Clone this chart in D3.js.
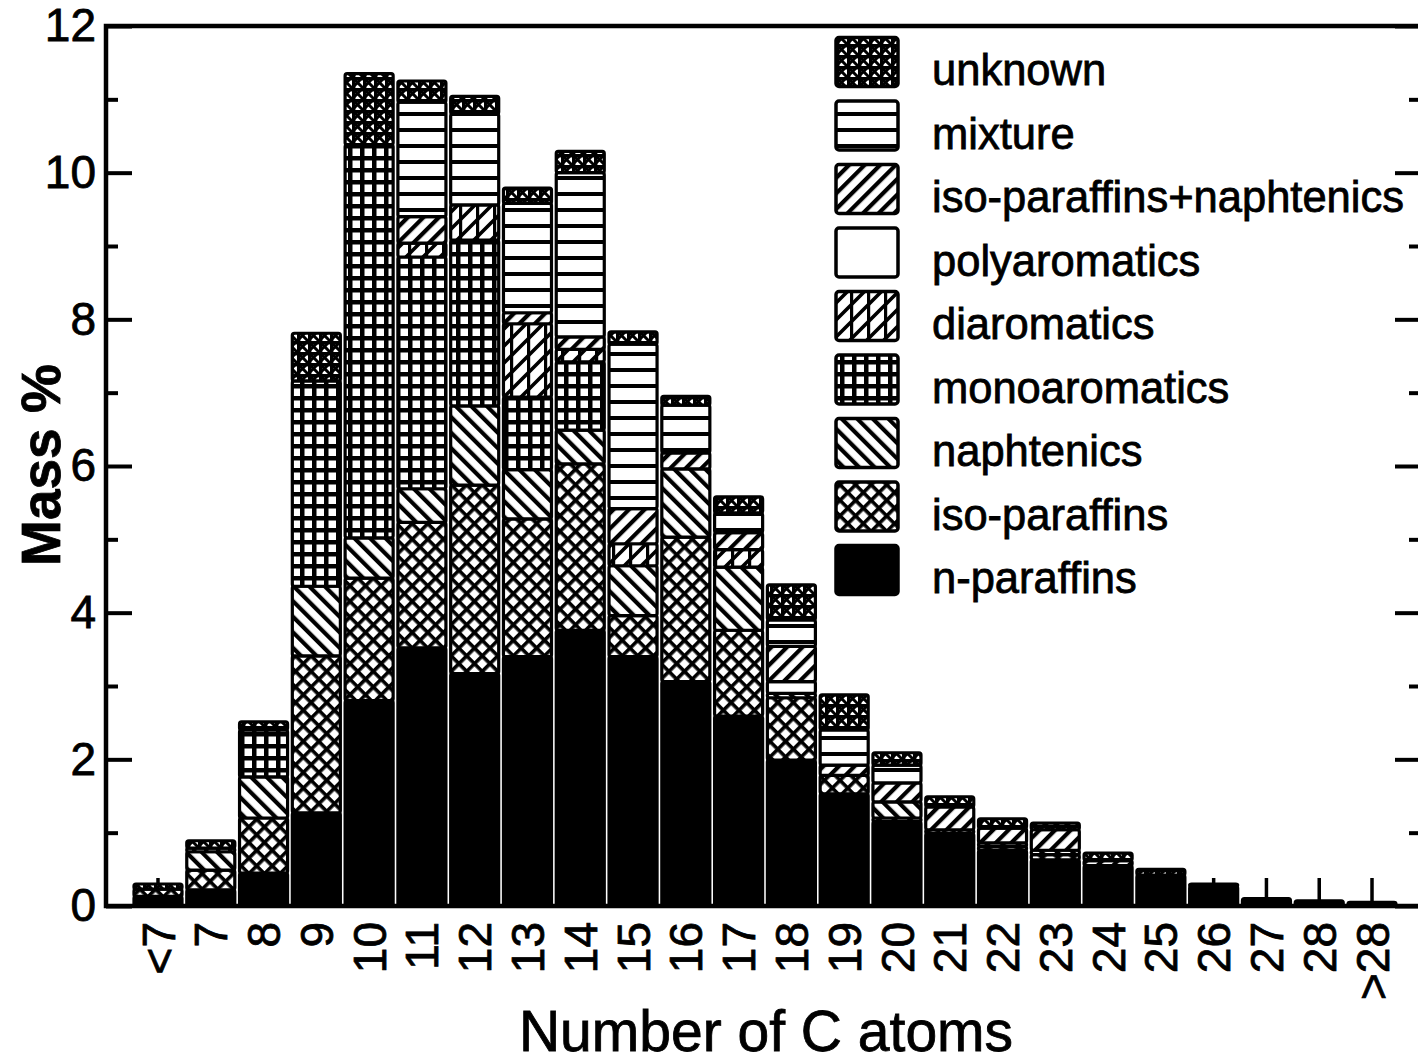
<!DOCTYPE html>
<html>
<head>
<meta charset="utf-8">
<script src="https://cdn.jsdelivr.net/npm/d3@7"></script>
<style>
  html, body { margin: 0; padding: 0; background: #fff; }
  svg { display: block; }
  text { font-family: "Liberation Sans", Arial, sans-serif; fill: #000; stroke: #000; stroke-width: 0.8px; }
</style>
</head>
<body>
<svg id="chart" width="1418" height="1062"></svg>
<script>
// ---------- data ----------
const categories = ["<7","7","8","9","10","11","12","13","14","15","16","17","18","19","20","21","22","23","24","25","26","27","28",">28"];
const seriesNames = ["n-paraffins","iso-paraffins","naphtenics","monoaromatics","diaromatics","polyaromatics","iso-paraffins+naphtenics","mixture","unknown"];
const nParaffins   = [0.13,0.22,0.45,1.27,2.80,3.52,3.17,3.40,3.76,3.40,3.06,2.59,1.99,1.53,1.15,0.99,0.76,0.63,0.55,0.42,0.27,0.10,0.07,0.05];
const isoParaffins = [0.10,0.27,0.75,2.14,1.67,1.71,2.57,1.88,2.27,0.56,1.97,1.17,0.85,0.25,0.05,0.05,0.05,0.07,0,0,0,0,0,0];
const naphtenics   = [0,0.25,0.56,0.95,0.55,0.46,1.08,0.67,0.46,0.68,0.93,0.86,0.06,0,0.22,0,0.05,0.06,0,0,0,0,0,0];
const monoaromatics= [0,0.05,0.64,2.80,5.36,3.16,2.26,0.99,0.93,0,0,0,0,0,0,0,0,0,0,0,0,0,0,0];
const diaromatics  = [0,0,0,0,0,0.19,0.48,1.00,0.17,0.30,0,0.24,0,0,0,0,0,0,0,0,0,0,0,0];
const polyaromatics= [0,0,0,0,0,0,0,0,0,0,0,0,0.16,0,0,0,0,0,0,0,0,0,0,0];
const isoNaph      = [0,0,0,0,0,0.36,0,0.15,0.17,0.48,0.22,0.23,0.48,0.14,0.26,0.31,0.20,0.28,0.07,0,0,0,0,0];
const mixture      = [0,0,0,0,0,1.56,1.24,1.49,2.24,2.24,0.65,0.27,0.36,0.48,0.24,0,0,0,0,0,0,0,0,0];
const unknown      = [0.07,0.10,0.11,0.65,0.97,0.29,0.24,0.21,0.29,0.17,0.12,0.22,0.48,0.48,0.17,0.14,0.13,0.09,0.10,0.08,0.03,0,0,0];
const yMajorTicks = [0,2,4,6,8,10,12];
const yMinorTicks = [1,3,5,7,9,11];

const seriesValues = [nParaffins,isoParaffins,naphtenics,monoaromatics,diaromatics,polyaromatics,isoNaph,mixture,unknown];
const table = categories.map((c,i) => {
  const row = {cat: c};
  seriesNames.forEach((s,k) => row[s] = seriesValues[k][i]);
  return row;
});

// ---------- layout ----------
const svg = d3.select("#chart");
const plotL = 106, plotR = 1421, plotT = 26, plotB = 906;
const x = d3.scaleBand(categories, [131.6, 1398.4]).paddingInner(0.09).paddingOuter(0.045);
const y = d3.scaleLinear([0, 12], [plotB, plotT]);

// ---------- patterns ----------
const defs = svg.append("defs");
function pat(id, w, h, transform) {
  const p = defs.append("pattern").attr("id", id).attr("patternUnits","userSpaceOnUse")
    .attr("width", w).attr("height", h);
  if (transform) p.attr("patternTransform", transform);
  p.append("rect").attr("width", w).attr("height", h).attr("fill", "#fff");
  return p;
}
{ const p = pat("p-iso", 11, 11, "rotate(45)");
  p.append("rect").attr("x",0).attr("y",0).attr("width",3.6).attr("height",11).attr("fill","#000");
  p.append("rect").attr("x",0).attr("y",0).attr("width",11).attr("height",3.6).attr("fill","#000"); }
{ const p = pat("p-naph", 11, 11, "rotate(-45)");
  p.append("rect").attr("x",0).attr("y",0).attr("width",4.2).attr("height",11).attr("fill","#000"); }
{ const p = pat("p-isonaph", 11, 11, "rotate(45)");
  p.append("rect").attr("x",0).attr("y",0).attr("width",4.2).attr("height",11).attr("fill","#000"); }
{ const p = pat("p-mono", 12, 12);
  p.append("rect").attr("x",0).attr("y",0).attr("width",4.5).attr("height",12).attr("fill","#000");
  p.append("rect").attr("x",0).attr("y",0).attr("width",12).attr("height",4.5).attr("fill","#000"); }
{ const p = pat("p-di", 17, 17);
  p.append("path").attr("d","M-4,21 L21,-4 M-4,4 L4,-4 M13,21 L21,13").attr("stroke","#000").attr("stroke-width",3.6);
  p.append("rect").attr("x",0).attr("y",0).attr("width",3.2).attr("height",17).attr("fill","#000"); }
pat("p-poly", 10, 10);
{ const p = pat("p-mix", 10, 16);
  p.append("rect").attr("x",0).attr("y",0).attr("width",10).attr("height",4).attr("fill","#000"); }
{ const p = pat("p-unk", 11, 11);
  p.append("path").attr("d","M0,0 L11,11 M11,0 L0,11").attr("stroke","#000").attr("stroke-width",3);
  p.append("rect").attr("x",0).attr("y",0).attr("width",3.4).attr("height",11).attr("fill","#000");
  p.append("rect").attr("x",0).attr("y",0).attr("width",11).attr("height",3.4).attr("fill","#000"); }

const fills = {
  "n-paraffins": "#000",
  "iso-paraffins": "url(#p-iso)",
  "naphtenics": "url(#p-naph)",
  "monoaromatics": "url(#p-mono)",
  "diaromatics": "url(#p-di)",
  "polyaromatics": "url(#p-poly)",
  "iso-paraffins+naphtenics": "url(#p-isonaph)",
  "mixture": "url(#p-mix)",
  "unknown": "url(#p-unk)"
};

// ---------- x ticks (inward, behind bars) ----------
const xAxis = svg.append("g").attr("transform", `translate(0,${plotB})`)
  .call(d3.axisBottom(x).tickSize(-28).tickPadding(16));
xAxis.select(".domain").remove();
xAxis.selectAll(".tick line").attr("stroke","#000").attr("stroke-width",3.5);
xAxis.selectAll(".tick text")
  .attr("transform","rotate(-90)")
  .attr("x",-16).attr("y",0).attr("dy","0.36em")
  .attr("text-anchor","end")
  .attr("fill","#000").attr("stroke","#000").attr("stroke-width",0.8)
  .style("font-size","46px")
  .style("font-family",'"Liberation Sans", Arial, sans-serif');

// ---------- bars ----------
const stacked = d3.stack().keys(seriesNames)(table);
const barG = svg.append("g");
stacked.forEach(layer => {
  barG.append("g")
    .selectAll("rect")
    .data(layer.filter(d => d[1] - d[0] > 0))
    .join("rect")
    .attr("x", d => x(d.data.cat))
    .attr("width", x.bandwidth())
    .attr("y", d => y(d[1]))
    .attr("height", d => y(d[0]) - y(d[1]))
    .attr("rx", 2)
    .attr("fill", fills[layer.key])
    .attr("stroke", "#000")
    .attr("stroke-width", 3.2);
});

// ---------- y axes ----------
function styleAxis(g) {
  g.select(".domain").remove();
  g.selectAll(".tick line").attr("stroke","#000").attr("stroke-width",4);
  g.selectAll(".tick text").style("font-size","46px")
    .attr("fill","#000").attr("stroke","#000").attr("stroke-width",0.8)
    .style("font-family",'"Liberation Sans", Arial, sans-serif');
}
svg.append("g").attr("transform",`translate(${plotL},0)`)
  .call(d3.axisLeft(y).tickValues(yMajorTicks).tickSize(-26).tickPadding(10).tickFormat(d3.format("d")))
  .call(styleAxis);
svg.append("g").attr("transform",`translate(${plotL},0)`)
  .call(d3.axisLeft(y).tickValues(yMinorTicks).tickSize(-12).tickFormat(""))
  .call(styleAxis);
svg.append("g").attr("transform",`translate(${plotR},0)`)
  .call(d3.axisRight(y).tickValues(yMajorTicks).tickSize(-26).tickFormat(""))
  .call(styleAxis);
svg.append("g").attr("transform",`translate(${plotR},0)`)
  .call(d3.axisRight(y).tickValues(yMinorTicks).tickSize(-12).tickFormat(""))
  .call(styleAxis);

svg.append("path")
  .attr("d", `M${plotL},${plotT} H${plotR} V${plotB} H${plotL} Z`)
  .attr("fill","none").attr("stroke","#000").attr("stroke-width",4.5);

// ---------- titles ----------
svg.append("text")
  .attr("transform","translate(60,465) rotate(-90)")
  .attr("text-anchor","middle")
  .style("font-size","55px").style("font-weight","bold")
  .text("Mass %");
svg.append("text")
  .attr("x", 766).attr("y", 1051)
  .attr("text-anchor","middle")
  .style("font-size","57px")
  .text("Number of C atoms");

// ---------- legend ----------
const legendOrder = seriesNames.slice().reverse();
const leg = svg.append("g");
legendOrder.forEach((name, i) => {
  const cy = 62 + i * 63.5;
  leg.append("rect")
    .attr("x", 836).attr("y", cy - 24.5)
    .attr("width", 62).attr("height", 49)
    .attr("rx", 3)
    .attr("fill", fills[name])
    .attr("stroke","#000").attr("stroke-width",3.5);
  leg.append("text")
    .attr("x", 932).attr("y", cy + 23)
    .style("font-size","43.5px")
    .text(name);
});
</script>
</body>
</html>
